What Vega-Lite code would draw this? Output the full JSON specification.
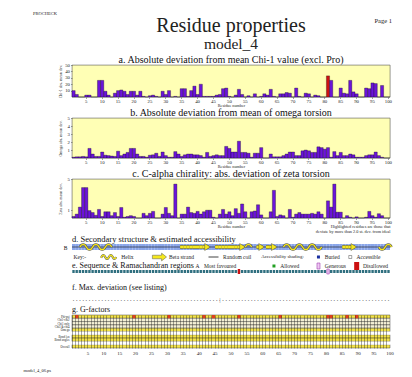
{
"$schema":"https://vega.github.io/schema/vega-lite/v6.json",
"background":"white",
"padding":{"left":23,"top":11,"right":4,"bottom":2},
"config":{"font":"Liberation Serif","view":{"stroke":null},
"axis":{"labelFont":"Liberation Serif","titleFont":"Liberation Serif","labelColor":"#222","titleColor":"#222","titleFontWeight":"normal","labelFontSize":4.8,"titleFontSize":4.2,"tickSize":1.5,"tickColor":"#444","tickWidth":0.5,"domain":false,"grid":false,"labelPadding":1,"titlePadding":1},
"title":{"font":"Liberation Serif","fontWeight":"normal","color":"#111","fontSize":10,"frame":"group"},
"text":{"font":"Liberation Serif","color":"#222"}},
"datasets":{
"hdr":[{"k":"prog","t":"PROCHECK"},{"k":"page","t":"Page 1"},{"k":"title","t":"Residue properties"},{"k":"model","t":"model_4"}],
"one":[{"k":"one"}],
"heads":[{"r":43},{"r":54},{"r":60},{"r":64},{"r":89}],
"grows":[{"row":"Phi-psi"},{"row":"Chi1-chi2"},{"row":"Chi1 only"},{"row":"Chi3 & chi4"},{"row":"Omega"},{"row":"Bond len"},{"row":"Bond angles"},{"row":"Overall"}],
"gsp":[{"row":"sp1"},{"row":"sp2"}],
"gbad":[{"r":2,"row":"Phi-psi"},{"r":20,"row":"Phi-psi"},{"r":31,"row":"Phi-psi"},{"r":42,"row":"Phi-psi"},{"r":45,"row":"Phi-psi"},{"r":53,"row":"Phi-psi"},{"r":66,"row":"Phi-psi"},{"r":81,"row":"Phi-psi"},{"r":82,"row":"Phi-psi"},{"r":87,"row":"Phi-psi"},{"r":90,"row":"Phi-psi"}],
"res":[
{"r":1,"a":10,"b":0.1,"c":0.2,"ss":"-"},{"r":2,"a":4,"b":0.15,"c":0.5,"ss":"-"},{"r":3,"a":0,"b":0.15,"c":1.4,"ss":"H"},{"r":4,"a":0,"b":0.2,"c":3.9,"ss":"H"},{"r":5,"a":3,"b":0.15,"c":3.9,"ss":"H"},
{"r":6,"a":3,"b":1.2,"c":0.95,"ss":"H"},{"r":7,"a":0,"b":0.5,"c":0.7,"ss":"H"},{"r":8,"a":0,"b":0.2,"c":0.35,"ss":"H"},{"r":9,"a":26,"b":0.2,"c":1.1,"ss":"H"},{"r":10,"a":26,"b":0.75,"c":0.2,"ss":"H"},
{"r":11,"a":9,"b":0.35,"c":0.8,"ss":"H"},{"r":12,"a":3,"b":0.3,"c":0.8,"ss":"H"},{"r":13,"a":0,"b":0.25,"c":0.3,"ss":"-"},{"r":14,"a":6,"b":0.2,"c":0.7,"ss":"-"},{"r":15,"a":10,"b":0.85,"c":0.2,"ss":"-"},
{"r":16,"a":11,"b":0.3,"c":1.35,"ss":"-"},{"r":17,"a":9,"b":0.5,"c":0.1,"ss":"-"},{"r":18,"a":4,"b":0.7,"c":0.2,"ss":"-"},{"r":19,"a":9,"b":1.2,"c":0.3,"ss":"-"},{"r":20,"a":9,"b":1.2,"c":0.2,"ss":"-"},
{"r":21,"a":3,"b":0.5,"c":0,"ss":"-"},{"r":22,"a":9,"b":0.2,"c":0,"ss":"-"},{"r":23,"a":1,"b":0.2,"c":0.6,"ss":"-"},{"r":24,"a":0,"b":0.1,"c":0.3,"ss":"-"},{"r":25,"a":2,"b":0.35,"c":0.6,"ss":"-"},
{"r":26,"a":3,"b":0.4,"c":0.85,"ss":"-"},{"r":27,"a":1,"b":0.6,"c":0,"ss":"-"},{"r":28,"a":0,"b":0.2,"c":0,"ss":"-"},{"r":29,"a":9,"b":0.75,"c":0.5,"ss":"-"},{"r":30,"a":4,"b":0.3,"c":1.35,"ss":"-"},
{"r":31,"a":10,"b":0.1,"c":0.6,"ss":"-"},{"r":32,"a":0,"b":0.1,"c":0.3,"ss":"-"},{"r":33,"a":1,"b":0.8,"c":4.35,"ss":"-"},{"r":34,"a":0,"b":0.5,"c":0,"ss":"-"},{"r":35,"a":13,"b":0.2,"c":0.5,"ss":"E"},
{"r":36,"a":13,"b":0.4,"c":0.5,"ss":"E"},{"r":37,"a":1,"b":0.5,"c":1.4,"ss":"E"},{"r":38,"a":10,"b":0.5,"c":0.7,"ss":"E"},{"r":39,"a":17,"b":0.4,"c":0.6,"ss":"E"},{"r":40,"a":4,"b":0.4,"c":0.85,"ss":"E"},
{"r":41,"a":20,"b":0.3,"c":0.5,"ss":"E"},{"r":42,"a":1,"b":0.1,"c":0.8,"ss":"E"},{"r":43,"a":1,"b":0.7,"c":1.0,"ss":"E"},{"r":44,"a":1,"b":0.2,"c":1.0,"ss":"-"},{"r":45,"a":1,"b":0.3,"c":0.1,"ss":"-"},
{"r":46,"a":3,"b":0.4,"c":0,"ss":"E"},{"r":47,"a":4,"b":0.3,"c":0.5,"ss":"E"},{"r":48,"a":13,"b":0.3,"c":1.1,"ss":"E"},{"r":49,"a":14,"b":1.45,"c":0.5,"ss":"E"},{"r":50,"a":1,"b":1.2,"c":0.8,"ss":"E"},
{"r":51,"a":0,"b":0.75,"c":0.3,"ss":"E"},{"r":52,"a":3,"b":0.75,"c":1.2,"ss":"E"},{"r":53,"a":12,"b":2.1,"c":0.6,"ss":"E","rama":"D"},{"r":54,"a":4,"b":0.7,"c":1.8,"ss":"E"},{"r":55,"a":0,"b":0.7,"c":0.8,"ss":"-"},
{"r":56,"a":2,"b":0.6,"c":0,"ss":"H"},{"r":57,"a":0,"b":0.1,"c":0.8,"ss":"H"},{"r":58,"a":5,"b":0.6,"c":0.9,"ss":"-"},{"r":59,"a":0,"b":0.6,"c":1.7,"ss":"E"},{"r":60,"a":1,"b":1.3,"c":0.4,"ss":"E"},
{"r":61,"a":5,"b":0,"c":0,"ss":"-"},{"r":62,"a":3,"b":0,"c":0,"ss":"E"},{"r":63,"a":12,"b":0.5,"c":0.8,"ss":"E"},{"r":64,"a":1,"b":0.15,"c":3.55,"ss":"E"},{"r":65,"a":0,"b":0.15,"c":0.2,"ss":"-"},
{"r":66,"a":5,"b":0.15,"c":0.4,"ss":"-"},{"r":67,"a":5,"b":0.3,"c":0.3,"ss":"-"},{"r":68,"a":7,"b":0.5,"c":0,"ss":"H"},{"r":69,"a":6,"b":0.75,"c":1.1,"ss":"H"},{"r":70,"a":0,"b":0.75,"c":0.1,"ss":"H"},
{"r":71,"a":14,"b":0.3,"c":0.5,"ss":"H"},{"r":72,"a":1,"b":0.3,"c":0.7,"ss":"H"},{"r":73,"a":0,"b":0.9,"c":0.5,"ss":"H"},{"r":74,"a":6,"b":1.0,"c":0.5,"ss":"H"},{"r":75,"a":5,"b":0.9,"c":0.5,"ss":"H"},
{"r":76,"a":0,"b":0.7,"c":0.6,"ss":"H"},{"r":77,"a":3,"b":0.7,"c":0.5,"ss":"H"},{"r":78,"a":2,"b":1.4,"c":0.8,"ss":"H"},{"r":79,"a":0,"b":1.3,"c":0.5,"ss":"-"},{"r":80,"a":0,"b":1.1,"c":0,"ss":"-"},
{"r":81,"a":33,"b":1.3,"c":2.2,"ss":"-","hi":true,"rama":"G"},{"r":82,"a":26,"b":0.1,"c":1.4,"ss":"-"},{"r":83,"a":0,"b":0.8,"c":4.35,"ss":"-"},{"r":84,"a":0,"b":0.3,"c":0.75,"ss":"-"},{"r":85,"a":14,"b":0.7,"c":0.75,"ss":"-"},
{"r":86,"a":6,"b":0.3,"c":0,"ss":"E"},{"r":87,"a":5,"b":0.3,"c":0.3,"ss":"E"},{"r":88,"a":26,"b":0.5,"c":0.1,"ss":"E"},{"r":89,"a":8,"b":0.4,"c":0,"ss":"E"},{"r":90,"a":5,"b":0.1,"c":0.15,"ss":"-"},
{"r":91,"a":0,"b":0.1,"c":0,"ss":"-"},{"r":92,"a":0,"b":0.1,"c":0,"ss":"-"},{"r":93,"a":14,"b":0.3,"c":0.1,"ss":"-"},{"r":94,"a":13,"b":0.4,"c":0.85,"ss":"-"},{"r":95,"a":22,"b":0.4,"c":0.3,"ss":"-"},
{"r":96,"a":21,"b":0.75,"c":0.1,"ss":"-"},{"r":97,"a":0,"b":0.3,"c":0.55,"ss":"H"},{"r":98,"a":18,"b":0.1,"c":0.3,"ss":"H"},{"r":99,"a":0,"b":0,"c":0,"ss":"H"},{"r":100,"a":0,"b":0,"c":0,"ss":"H"}
]},
"bounds":"flush",
"spacing":21,
"vconcat":[
{"width":318,"height":30,"data":{"name":"hdr"},
"layer":[
{"transform":[{"filter":"datum.k == 'prog'"}],"mark":{"type":"text","align":"left","baseline":"middle","dx":-39,"fontSize":4.5},
"encoding":{"x":{"field":"k","type":"nominal","scale":{"type":"point","domain":["prog","title","page"],"padding":0},"axis":null},"y":{"field":"k","type":"nominal","scale":{"type":"point","domain":["prog","page","title","model"],"padding":0},"axis":null},"text":{"field":"t"}}},
{"transform":[{"filter":"datum.k == 'page'"}],"mark":{"type":"text","align":"right","baseline":"middle","dx":2,"dy":-3.5,"fontSize":6.5},
"encoding":{"x":{"field":"k","type":"nominal"},"y":{"field":"k","type":"nominal"},"text":{"field":"t"}}},
{"transform":[{"filter":"datum.k == 'title'"}],"mark":{"type":"text","align":"center","baseline":"middle","dy":-7.75,"fontSize":20},
"encoding":{"x":{"field":"k","type":"nominal"},"y":{"field":"k","type":"nominal"},"text":{"field":"t"}}},
{"transform":[{"filter":"datum.k == 'model'"}],"mark":{"type":"text","align":"center","baseline":"middle","dy":-0.25,"fontSize":15.5},
"encoding":{"x":{"datum":"title","type":"nominal"},"y":{"field":"k","type":"nominal"},"text":{"field":"t"}}}
]},
{"width":318,"height":32,"data":{"name":"res"},
"title":{"text":"a. Absolute deviation from mean Chi-1 value (excl. Pro)","offset":-3},
"view":{"fill":"#ffffb5","stroke":"#555","strokeWidth":0.6},
"mark":{"type":"bar","stroke":"#000","strokeWidth":0.3},
"encoding":{
"x":{"field":"r","type":"ordinal","scale":{"paddingInner":0,"paddingOuter":0},"axis":{"values":[5,10,15,20,25,30,35,40,45,50,55,60,65,70,75,80,85,90,95,100],"labelAngle":0,"title":"Residue number","labelPadding":0,"titlePadding":0}},
"y":{"field":"a","type":"quantitative","scale":{"domain":[0,50],"nice":false},"axis":{"values":[10,20,30,40,50],"title":"Chi-1 abs. mean dev.","titleFontSize":4,"titlePadding":2}},
"color":{"condition":{"test":"datum.hi","value":"#cc1111"},"value":"#6b14d9"}}},
{"width":318,"height":40,"data":{"name":"res"},
"title":{"text":"b. Absolute deviation from mean of omega torsion","offset":-3},
"view":{"fill":"#ffffb5","stroke":"#555","strokeWidth":0.6},
"mark":{"type":"bar","stroke":"#000","strokeWidth":0.3,"color":"#6b14d9"},
"encoding":{
"x":{"field":"r","type":"ordinal","scale":{"paddingInner":0,"paddingOuter":0},"axis":{"values":[5,10,15,20,25,30,35,40,45,50,55,60,65,70,75,80,85,90,95,100],"labelAngle":0,"title":"Residue number","labelPadding":0,"titlePadding":0}},
"y":{"field":"b","type":"quantitative","scale":{"domain":[0,5],"nice":false},"axis":{"values":[1,2,3,4,5],"title":"Omega abs. mean dev.","titleFontSize":4,"titlePadding":5}}}},
{"width":318,"height":39,
"title":{"text":"c. C-alpha chirality: abs. deviation of zeta torsion","offset":-3},
"view":{"fill":"#ffffb5","stroke":"#555","strokeWidth":0.6},
"layer":[
{"data":{"name":"res"},"mark":{"type":"bar","stroke":"#000","strokeWidth":0.3,"color":"#6b14d9"},
"encoding":{
"x":{"field":"r","type":"ordinal","scale":{"paddingInner":0,"paddingOuter":0},"axis":{"values":[5,10,15,20,25,30,35,40,45,50,55,60,65,70,75,80,85,90,95,100],"labelAngle":0,"title":"Residue number","labelPadding":0,"titlePadding":0}},
"y":{"field":"c","type":"quantitative","scale":{"domain":[0,5],"nice":false},"axis":{"values":[1,2,3,4,5],"title":"Zeta abs. mean dev.","titleFontSize":4,"titlePadding":5}}}},
{"data":{"name":"one"},"mark":{"type":"text","align":"right","baseline":"top","fontSize":4.3,"lineHeight":5,"dx":2,"text":["Highlighted residues are those that","deviate by more than 2.0 st. dev. from ideal"]},
"encoding":{"x":{"datum":100,"type":"ordinal"},"y":{"datum":-0.9,"type":"quantitative"}}}
]},
{"width":318,"height":10,
"title":{"text":"d. Secondary structure & estimated accessibility","anchor":"start","fontSize":8.5,"offset":-4},
"layer":[
{"data":{"name":"res"},"mark":{"type":"rect","color":"#8aa6ea"},
"encoding":{"x":{"field":"r","type":"ordinal","scale":{"paddingInner":0,"paddingOuter":0},"axis":null},
"y":{"datum":0.5,"type":"quantitative","scale":{"domain":[0,1],"nice":false,"zero":false},"axis":{"values":[0.2],"labelExpr":"'B'","ticks":false,"title":null,"labelFontSize":5.5,"labelPadding":5,"labelColor":"#111"}},
"y2":{"datum":-0.1}}},
{"data":{"name":"one"},"mark":{"type":"rule","color":"#111","strokeWidth":0.6},"encoding":{"y":{"datum":0.2,"type":"quantitative"}}},
{"data":{"name":"res"},"transform":[{"filter":"datum.ss == 'E'"}],"mark":{"type":"rect","color":"#555"},"encoding":{"x":{"field":"r","type":"ordinal"},"y":{"datum":0.4,"type":"quantitative"},"y2":{"datum":0}}},
{"data":{"name":"res"},"transform":[{"filter":"datum.ss == 'E'"}],"mark":{"type":"rect","color":"#f5e81c"},"encoding":{"x":{"field":"r","type":"ordinal"},"y":{"datum":0.34,"type":"quantitative"},"y2":{"datum":0.06}}},
{"data":{"name":"heads"},"mark":{"type":"point","shape":"M-0.7,-1 L0.9,0 L-0.7,1 Z","size":49,"filled":true,"fill":"#f5e81c","stroke":"#555","strokeWidth":0.5,"opacity":1},"encoding":{"x":{"field":"r","type":"ordinal"},"y":{"datum":0.2,"type":"quantitative"}}},
{"data":{"name":"res"},"transform":[{"filter":"datum.ss == 'H' && datum.r % 4 == 0"}],"mark":{"type":"point","shape":"M-1,0 C-0.5,-1.1 0.5,-1.1 1,0","size":40,"filled":false,"stroke":"#555","strokeWidth":2.4,"opacity":1},"encoding":{"x":{"field":"r","type":"ordinal"},"y":{"datum":0.2,"type":"quantitative"}}},
{"data":{"name":"res"},"transform":[{"filter":"datum.ss == 'H' && datum.r % 4 == 2"}],"mark":{"type":"point","shape":"M-1,0 C-0.5,1.1 0.5,1.1 1,0","size":40,"filled":false,"stroke":"#555","strokeWidth":2.4,"opacity":1},"encoding":{"x":{"field":"r","type":"ordinal"},"y":{"datum":0.2,"type":"quantitative"}}},
{"data":{"name":"res"},"transform":[{"filter":"datum.ss == 'H' && datum.r % 4 == 0"}],"mark":{"type":"point","shape":"M-1,0 C-0.5,-1.1 0.5,-1.1 1,0","size":40,"filled":false,"stroke":"#f5e81c","strokeWidth":1.4,"opacity":1},"encoding":{"x":{"field":"r","type":"ordinal"},"y":{"datum":0.2,"type":"quantitative"}}},
{"data":{"name":"res"},"transform":[{"filter":"datum.ss == 'H' && datum.r % 4 == 2"}],"mark":{"type":"point","shape":"M-1,0 C-0.5,1.1 0.5,1.1 1,0","size":40,"filled":false,"stroke":"#f5e81c","strokeWidth":1.4,"opacity":1},"encoding":{"x":{"field":"r","type":"ordinal"},"y":{"datum":0.2,"type":"quantitative"}}},
{"data":{"name":"one"},"mark":{"type":"text","align":"left","baseline":"middle","fontSize":5.5,"text":"Key:-"},"encoding":{"x":{"datum":1,"type":"ordinal"},"y":{"datum":-0.8,"type":"quantitative"}}},
{"data":{"name":"one"},"mark":{"type":"point","shape":"M-1,0.1 C-0.8,-0.35 -0.6,-0.35 -0.45,0 C-0.3,0.35 -0.1,0.35 0.05,0 C0.2,-0.35 0.4,-0.35 0.55,0 C0.7,0.35 0.9,0.35 1,0","size":225,"filled":false,"stroke":"#555","strokeWidth":2.2,"opacity":1},"encoding":{"x":{"datum":12,"type":"ordinal"},"y":{"datum":-0.8,"type":"quantitative"}}},
{"data":{"name":"one"},"mark":{"type":"point","shape":"M-1,0.1 C-0.8,-0.35 -0.6,-0.35 -0.45,0 C-0.3,0.35 -0.1,0.35 0.05,0 C0.2,-0.35 0.4,-0.35 0.55,0 C0.7,0.35 0.9,0.35 1,0","size":225,"filled":false,"stroke":"#f5e81c","strokeWidth":1.3,"opacity":1},"encoding":{"x":{"datum":12,"type":"ordinal"},"y":{"datum":-0.8,"type":"quantitative"}}},
{"data":{"name":"one"},"mark":{"type":"text","align":"left","baseline":"middle","fontSize":5.5,"text":"Helix"},"encoding":{"x":{"datum":16,"type":"ordinal"},"y":{"datum":-0.8,"type":"quantitative"}}},
{"data":{"name":"one"},"mark":{"type":"point","shape":"M-1,-0.25 L0.3,-0.25 L0.3,-0.55 L1,0 L0.3,0.55 L0.3,0.25 L-1,0.25 Z","size":200,"filled":true,"fill":"#f5e81c","stroke":"#555","strokeWidth":0.5,"opacity":1},"encoding":{"x":{"datum":28,"type":"ordinal"},"y":{"datum":-0.8,"type":"quantitative"}}},
{"data":{"name":"one"},"mark":{"type":"text","align":"left","baseline":"middle","fontSize":5.5,"text":"Beta strand"},"encoding":{"x":{"datum":31,"type":"ordinal"},"y":{"datum":-0.8,"type":"quantitative"}}},
{"data":{"name":"one"},"mark":{"type":"point","shape":"M-1,0 L1,0","size":100,"filled":false,"stroke":"#111","strokeWidth":0.8,"opacity":1},"encoding":{"x":{"datum":45,"type":"ordinal"},"y":{"datum":-0.8,"type":"quantitative"}}},
{"data":{"name":"one"},"mark":{"type":"text","align":"left","baseline":"middle","fontSize":5.5,"text":"Random coil"},"encoding":{"x":{"datum":48,"type":"ordinal"},"y":{"datum":-0.8,"type":"quantitative"}}},
{"data":{"name":"one"},"mark":{"type":"text","align":"left","baseline":"middle","fontSize":4.8,"text":"Accessibility shading:"},"encoding":{"x":{"datum":60,"type":"ordinal"},"y":{"datum":-0.8,"type":"quantitative"}}},
{"data":{"name":"one"},"mark":{"type":"square","size":9,"color":"#1a2fa0","opacity":1},"encoding":{"x":{"datum":78,"type":"ordinal"},"y":{"datum":-0.8,"type":"quantitative"}}},
{"data":{"name":"one"},"mark":{"type":"text","align":"left","baseline":"middle","fontSize":5.5,"text":"Buried"},"encoding":{"x":{"datum":80,"type":"ordinal"},"y":{"datum":-0.8,"type":"quantitative"}}},
{"data":{"name":"one"},"mark":{"type":"square","size":9,"filled":true,"fill":"white","stroke":"#222","strokeWidth":0.4,"opacity":1},"encoding":{"x":{"datum":88,"type":"ordinal"},"y":{"datum":-0.8,"type":"quantitative"}}},
{"data":{"name":"one"},"mark":{"type":"text","align":"left","baseline":"middle","fontSize":5.5,"text":"Accessible"},"encoding":{"x":{"datum":90,"type":"ordinal"},"y":{"datum":-0.8,"type":"quantitative"}}}
]},
{"width":318,"height":2,
"layer":[
{"data":{"name":"res"},"mark":{"type":"rect","color":"#2f6f7f"},
"encoding":{"x":{"field":"r","type":"ordinal","scale":{"paddingInner":0.25,"paddingOuter":0.1},"axis":null},"y":{"datum":1,"type":"quantitative","scale":{"domain":[0,1],"nice":false,"zero":false},"axis":null},"y2":{"datum":-0.5}}},
{"data":{"name":"res"},"transform":[{"filter":"datum.rama == 'D'"}],"mark":{"type":"rect","color":"#cc1111"},"encoding":{"x":{"field":"r","type":"ordinal"},"y":{"datum":1.5,"type":"quantitative"},"y2":{"datum":-1}}},
{"data":{"name":"res"},"transform":[{"filter":"datum.rama == 'G'"}],"mark":{"type":"rect","fill":"#efc8f2","stroke":"#a040b0","strokeWidth":0.6},"encoding":{"x":{"field":"r","type":"ordinal"},"y":{"datum":1.5,"type":"quantitative"},"y2":{"datum":-1}}},
{"data":{"name":"one"},"mark":{"type":"text","align":"left","baseline":"middle","fontSize":8,"dx":-1.6,"color":"#111","text":"e. Sequence & Ramachandran regions"},"encoding":{"x":{"datum":1,"type":"ordinal"},"y":{"datum":3,"type":"quantitative"}}},
{"data":{"name":"one"},"mark":{"type":"text","align":"center","baseline":"middle","fontSize":5.5,"text":"A"},"encoding":{"x":{"datum":40,"type":"ordinal"},"y":{"datum":3,"type":"quantitative"}}},
{"data":{"name":"one"},"mark":{"type":"text","align":"left","baseline":"middle","fontSize":5.5,"text":"Most favoured"},"encoding":{"x":{"datum":42,"type":"ordinal"},"y":{"datum":3,"type":"quantitative"}}},
{"data":{"name":"one"},"mark":{"type":"square","size":9,"color":"#22a022","opacity":1},"encoding":{"x":{"datum":64,"type":"ordinal"},"y":{"datum":3,"type":"quantitative"}}},
{"data":{"name":"one"},"mark":{"type":"text","align":"left","baseline":"middle","fontSize":5.5,"text":"Allowed"},"encoding":{"x":{"datum":66,"type":"ordinal"},"y":{"datum":3,"type":"quantitative"}}},
{"data":{"name":"one"},"mark":{"type":"point","shape":"M-0.5,-1 L0.5,-1 L0.5,1 L-0.5,1 Z","size":36,"filled":true,"fill":"#efc8f2","stroke":"#a040b0","strokeWidth":0.6,"opacity":1},"encoding":{"x":{"datum":78,"type":"ordinal"},"y":{"datum":3,"type":"quantitative"}}},
{"data":{"name":"one"},"mark":{"type":"text","align":"left","baseline":"middle","fontSize":5.5,"text":"Generous"},"encoding":{"x":{"datum":80,"type":"ordinal"},"y":{"datum":3,"type":"quantitative"}}},
{"data":{"name":"one"},"mark":{"type":"point","shape":"M-0.5,-1 L0.5,-1 L0.5,1 L-0.5,1 Z","size":36,"filled":true,"fill":"#cc1111","stroke":"#cc1111","opacity":1},"encoding":{"x":{"datum":90,"type":"ordinal"},"y":{"datum":3,"type":"quantitative"}}},
{"data":{"name":"one"},"mark":{"type":"text","align":"left","baseline":"middle","fontSize":5.5,"text":"Disallowed"},"encoding":{"x":{"datum":92,"type":"ordinal"},"y":{"datum":3,"type":"quantitative"}}}
]},
{"width":318,"height":1,
"title":{"text":"f. Max. deviation (see listing)","anchor":"start","fontSize":8,"offset":1},
"layer":[
{"data":{"name":"res"},"mark":{"type":"text","text":".","fontSize":6,"baseline":"middle"},
"encoding":{"x":{"field":"r","type":"ordinal","scale":{"paddingInner":0,"paddingOuter":0},"axis":null},"y":{"datum":-5,"type":"quantitative","scale":{"domain":[0,1],"nice":false,"zero":false},"axis":null}}},
{"data":{"name":"one"},"mark":{"type":"text","text":[":",":"],"fontSize":5,"lineHeight":3.5,"baseline":"bottom"},
"encoding":{"x":{"datum":47,"type":"ordinal"},"y":{"datum":-6.5,"type":"quantitative"}}}
]},
{"width":318,"height":33,
"title":{"text":"g. G-factors","anchor":"start","fontSize":8,"offset":0.5},
"layer":[
{"data":{"name":"grows"},"mark":{"type":"rect","stroke":"#222","strokeWidth":0.4},
"encoding":{"y":{"field":"row","type":"nominal","scale":{"domain":["Phi-psi","Chi1-chi2","Chi1 only","Chi3 & chi4","Omega","sp1","Bond len","Bond angles","sp2","Overall"],"paddingInner":0,"paddingOuter":0},"axis":{"labelExpr":"indexof(['sp1','sp2'], datum.value) >= 0 ? '' : datum.label","ticks":false,"title":null,"labelFontSize":3,"labelPadding":3}},
"color":{"field":"row","type":"nominal","scale":{"domain":["Phi-psi","Chi1-chi2","Chi1 only","Chi3 & chi4","Omega","Bond len","Bond angles","Overall"],"range":["#f2e24a","#f4f0d6","#f4f0d6","#f4f0d6","#f2e24a","#f2e24a","#f2e24a","#f2e24a"]},"legend":null}}},
{"data":{"name":"gbad"},"mark":{"type":"rect","color":"#e0401e"},
"encoding":{"x":{"field":"r","type":"ordinal","scale":{"paddingInner":0,"paddingOuter":0},"axis":{"bandPosition":0,"grid":true,"gridColor":"#222","gridWidth":0.4,"ticks":false,"zindex":1,"labelOverlap":false,"labelExpr":"datum.value % 5 == 0 ? datum.label : ''","labelOffset":1.6,"labelAngle":0,"labelPadding":2,"labelFontSize":5,"title":"model_4_06.ps","titleFontSize":4.5,"titleAnchor":"start","titleX":-49,"titleY":19}},"y":{"field":"row","type":"nominal"}}},
{"data":{"name":"res"},"mark":{"type":"rect","opacity":0},"encoding":{"x":{"field":"r","type":"ordinal"}}},
{"data":{"name":"gsp"},"mark":{"type":"rect","color":"white","zindex":2},"encoding":{"y":{"field":"row","type":"nominal"}}}
]}
]
}
